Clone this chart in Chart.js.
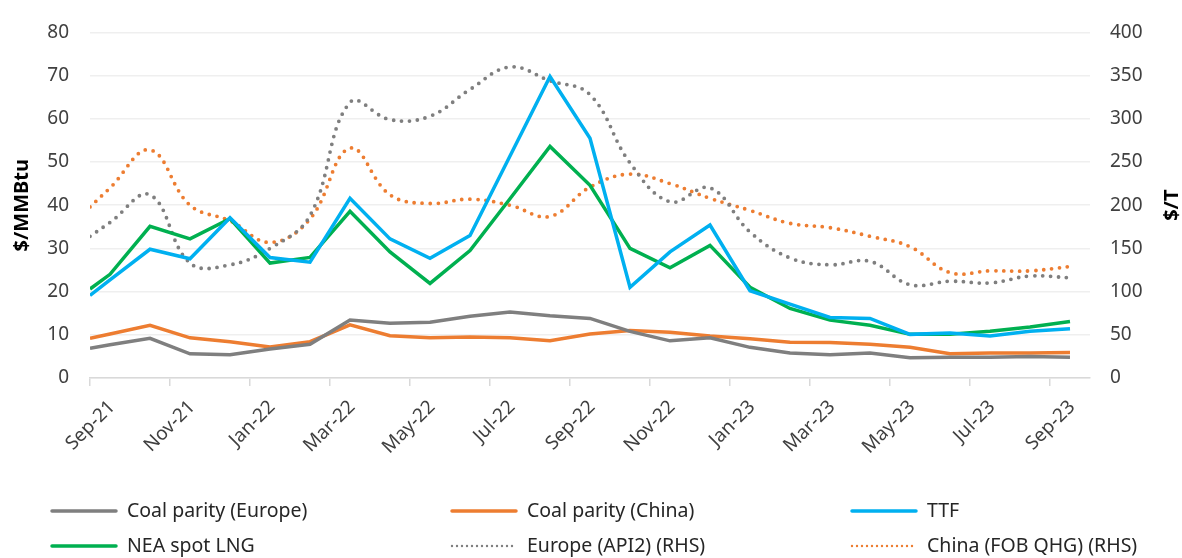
<!DOCTYPE html>
<html>
<head>
<meta charset="utf-8">
<script src="https://cdn.jsdelivr.net/npm/chart.js@4/dist/chart.umd.min.js"></script>
<style>
  html, body { margin: 0; padding: 0; background: #fff; }
  #wrap { width: 1182px; height: 558px; }
</style>
</head>
<body>
<div id="wrap"><canvas id="gasCoal" width="1182" height="558"></canvas></div>
<script>
// Monthly observations (first point sits on the start of the axis)
const obsDates = [
    '2021-09-01', '2021-09-16', '2021-10-16', '2021-11-16', '2021-12-16',
    '2022-01-16', '2022-02-16', '2022-03-16', '2022-04-16', '2022-05-16',
    '2022-06-16', '2022-07-16', '2022-08-16', '2022-09-16', '2022-10-16',
    '2022-11-16', '2022-12-16', '2023-01-16', '2023-02-16', '2023-03-16',
    '2023-04-16', '2023-05-16', '2023-06-16', '2023-07-16', '2023-08-16',
    '2023-09-16'
];

// Axis labels, every second month
const tickLabels = ['Sep-21', 'Nov-21', 'Jan-22', 'Mar-22', 'May-22', 'Jul-22', 'Sep-22',
                    'Nov-22', 'Jan-23', 'Mar-23', 'May-23', 'Jul-23', 'Sep-23'];

// $/MMBtu (left axis)
const coalParityEurope = [6.9, 7.7, 9.2, 5.6, 5.4, 6.7, 7.8, 13.4, 12.7, 12.9, 14.3, 15.3, 14.4,
                          13.8, 10.8, 8.6, 9.3, 7.1, 5.8, 5.4, 5.8, 4.7, 4.8, 4.8, 5.0, 4.8];
const coalParityChina  = [9.2, 10.2, 12.2, 9.3, 8.4, 7.2, 8.4, 12.3, 9.8, 9.3, 9.5, 9.3, 8.6,
                          10.2, 11.0, 10.6, 9.7, 9.1, 8.3, 8.2, 7.8, 7.1, 5.6, 5.8, 5.8, 5.9];
const ttf              = [19.1, 22.7, 29.8, 27.6, 37.1, 27.9, 26.8, 41.6, 32.2, 27.7, 33.0, 51.4, 69.8,
                          55.5, 21.0, 29.2, 35.4, 20.2, 17.1, 14.0, 13.8, 10.1, 10.4, 9.7, 10.8, 11.4];
const neaSpotLng       = [20.6, 24.0, 35.1, 32.2, 36.9, 26.6, 27.9, 38.6, 29.2, 21.9, 29.5, 41.5, 53.6,
                          44.6, 30.0, 25.5, 30.7, 21.0, 16.1, 13.4, 12.2, 10.1, 10.1, 10.8, 11.8, 13.1];

// $/T (right axis)
const europeApi2 = [164, 180, 212, 133, 131, 150, 188, 319, 299, 303, 334, 360, 344,
                    328, 249, 204, 220, 169, 139, 131, 135, 108, 112, 110, 118, 116];
const chinaFobQhg = [198, 220, 264, 200, 182, 157, 184, 266, 212, 202, 207, 200, 187,
                     221, 236, 225, 208, 194, 179, 174, 164, 152, 122, 124, 124, 129];

const FONT = "'Noto Sans', 'Open Sans', sans-serif";
const TEXT = '#404040';

// months elapsed since 1 Sep 2021
function monthOffset(d) {
    const [y, m, day] = d.split('-').map(Number);
    return (y - 2021) * 12 + (m - 9) + (day - 1) / 30;
}
const xs = obsDates.map(monthOffset);
const pts = vals => vals.map((v, i) => ({ x: xs[i], y: v }));

const solid = (label, data, color) => ({
    label, data: pts(data), borderColor: color, backgroundColor: color,
    borderWidth: 3.5, pointRadius: 0, tension: 0, yAxisID: 'y',
    borderJoinStyle: 'miter', borderCapStyle: 'butt'
});
const dotted = (label, data, color) => ({
    label, data: pts(data), borderColor: color, backgroundColor: color,
    borderWidth: 3.8, borderDash: [0, 8], borderCapStyle: 'round',
    pointRadius: 0, tension: 0.4, yAxisID: 'y2', dotted: true
});

const datasets = [
    solid('Coal parity (Europe)', coalParityEurope, '#7F7F7F'),
    solid('Coal parity (China)', coalParityChina, '#ED7D31'),
    solid('TTF', ttf, '#00B0F0'),
    solid('NEA spot LNG', neaSpotLng, '#00B050'),
    dotted('Europe (API2) (RHS)', europeApi2, '#7F7F7F'),
    dotted('China (FOB QHG) (RHS)', chinaFobQhg, '#ED7D31')
];

// legend in three columns + rotated axis titles
const extras = {
    id: 'extras',
    afterDraw(chart) {
        const ctx = chart.ctx;
        const area = chart.chartArea;
        const midY = (area.top + area.bottom) / 2;
        [['$/MMBtu', 22], ['$/T', 1172]].forEach(([text, x]) => {
            ctx.save();
            ctx.fillStyle = '#000';
            ctx.font = `bold 20px ${FONT}`;
            ctx.textAlign = 'center';
            ctx.textBaseline = 'middle';
            ctx.translate(x, midY);
            ctx.rotate(-Math.PI / 2);
            ctx.fillText(text, 0, 0);
            ctx.restore();
        });

        const colX = [50, 450, 850];
        const rowY = [511, 546];
        chart.data.datasets.forEach((ds, i) => {
            const x = colX[i % 3];
            const y = rowY[Math.floor(i / 3)];
            ctx.save();
            ctx.strokeStyle = ds.borderColor;
            ctx.lineCap = 'round';
            if (ds.dotted) {
                ctx.lineWidth = 2.4;
                ctx.setLineDash([0, 5]);
            } else {
                ctx.lineWidth = 3.5;
            }
            ctx.beginPath();
            ctx.moveTo(x + 2, y);
            ctx.lineTo(x + 66, y);
            ctx.stroke();
            ctx.setLineDash([]);
            ctx.fillStyle = '#262626';
            ctx.font = `19.5px ${FONT}`;
            ctx.textAlign = 'left';
            ctx.textBaseline = 'middle';
            ctx.fillText(ds.label, x + 77, y);
            ctx.restore();
        });
    }
};

new Chart(document.getElementById('gasCoal'), {
    type: 'line',
    data: { datasets },
    options: {
        responsive: false,
        animation: false,
        devicePixelRatio: 1,
        layout: { padding: { top: 23, left: 0, right: 0, bottom: 0 } },
        plugins: { legend: { display: false }, tooltip: { enabled: false } },
        scales: {
            x: {
                type: 'linear', min: 0, max: 25,
                afterBuildTicks: s => { s.ticks = tickLabels.map((_, i) => ({ value: i * 2 })); },
                afterFit: s => { s.height = 180; },
                ticks: {
                    callback: v => tickLabels[v / 2],
                    autoSkip: false, minRotation: 45, maxRotation: 45,
                    labelOffset: 22, padding: 10,
                    color: TEXT, font: { family: FONT, size: 19 }
                },
                grid: { drawOnChartArea: false, drawTicks: true, tickLength: 8, color: '#D9D9D9', lineWidth: 1.5 },
                border: { color: '#D9D9D9', width: 1.5 }
            },
            y: {
                position: 'left', min: 0, max: 80,
                afterFit: s => { s.width = 90; },
                ticks: { stepSize: 10, padding: 21, color: TEXT, font: { family: FONT, size: 19 } },
                grid: { color: '#EFEFEF', lineWidth: 1.5, drawTicks: false },
                border: { display: false }
            },
            y2: {
                position: 'right', min: 0, max: 400,
                afterFit: s => { s.width = 92; },
                ticks: { stepSize: 50, padding: 20, color: TEXT, font: { family: FONT, size: 19 } },
                grid: { drawOnChartArea: false, drawTicks: false },
                border: { display: false }
            }
        }
    },
    plugins: [extras]
});
</script>
</body>
</html>
